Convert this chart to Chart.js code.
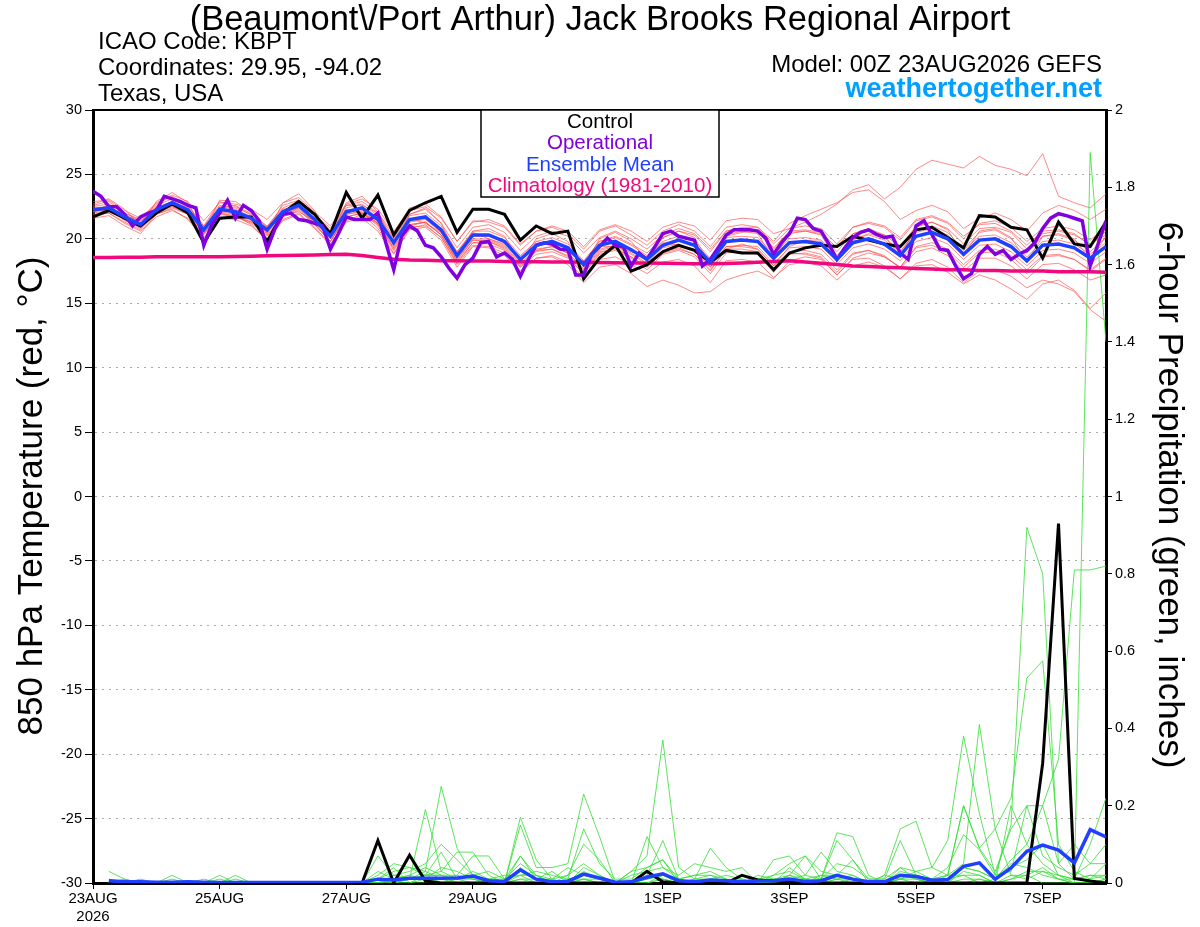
<!DOCTYPE html>
<html>
<head>
<meta charset="utf-8">
<script src="https://cdn.jsdelivr.net/npm/chart.js@4.4.1/dist/chart.umd.min.js"></script>
<style>
  html, body { margin: 0; padding: 0; background: #fff; }
  #wrap { width: 1200px; height: 927px; position: relative; }
</style>
</head>
<body>
<div id="wrap"><canvas id="meteograma"></canvas></div>
<script>
var FONTE = '"Liberation Sans", Arial, Helvetica, sans-serif';

// eixo x: horas desde 00Z 23AUG2026
var tickHoras = [0, 48, 96, 144, 216, 264, 312, 360];
var tickRotulos = ['23AUG', '25AUG', '27AUG', '29AUG', '1SEP', '3SEP', '5SEP', '7SEP'];

// temperatura 850 hPa, passo de 6 h (65 valores)
var controleTemp = [21.7, 22.2, 21.6, 21.0, 22.0, 22.7, 22.0, 19.7, 21.6, 21.7, 21.7, 19.8, 22.0, 22.9, 21.9, 20.4,
  23.6, 21.6, 23.4, 20.3, 22.2, 22.8, 23.3, 20.5, 22.3, 22.3, 21.9, 19.9, 21.0, 20.4, 20.6, 16.9,
  18.5, 19.5, 17.5, 18.0, 19.0, 19.5, 19.1, 18.2, 19.1, 18.9, 18.9, 17.6, 18.9, 19.3, 19.5, 19.4,
  20.2, 19.9, 19.6, 19.4, 20.7, 20.9, 20.1, 19.3, 21.8, 21.7, 20.9, 20.7, 18.5, 21.3, 19.6, 19.4, 21.3];

var mediaTemp = [22.25, 22.4, 21.7, 21.1, 22.25, 22.8, 22.25, 20.7, 22.3, 22.1, 21.6, 20.7, 22.1, 22.6, 21.5, 20.2,
  22.1, 22.4, 21.5, 19.7, 21.5, 21.7, 20.7, 18.7, 20.3, 20.3, 19.8, 18.4, 19.5, 19.8, 19.3, 18.0,
  19.5, 19.8, 19.15, 18.4, 19.5, 19.9, 19.5, 18.2, 19.8, 19.9, 19.8, 18.5, 19.7, 19.8, 19.6, 18.4,
  19.7, 20.0, 19.6, 18.7, 20.2, 20.5, 20.0, 18.8, 19.9, 20.0, 19.4, 18.3, 19.5, 19.6, 19.3, 18.5, 19.4];

var climaTemp = [18.55, 18.56, 18.57, 18.58, 18.6, 18.6, 18.6, 18.6, 18.6, 18.62, 18.65, 18.68, 18.7, 18.72, 18.75, 18.78,
  18.8, 18.7, 18.55, 18.42, 18.36, 18.33, 18.3, 18.3, 18.28, 18.27, 18.25, 18.23, 18.22, 18.2, 18.2, 18.18,
  18.17, 18.15, 18.13, 18.12, 18.1, 18.08, 18.06, 18.06, 18.08, 18.12, 18.18, 18.25, 18.3, 18.2, 18.1, 18.0,
  17.9, 17.85, 17.8, 17.75, 17.7, 17.65, 17.6, 17.6, 17.55, 17.55, 17.5, 17.5, 17.5, 17.45, 17.45, 17.45, 17.4];

// operacional, passo de 3 h (129 valores)
var operacionalTemp = [23.7, 23.3, 22.5, 22.5, 21.9, 21.0, 21.7, 22.0, 22.2, 23.3, 23.1, 22.9, 22.6, 22.4, 19.5, 21.1,
  22.0, 23.0, 21.6, 22.6, 22.2, 21.4, 19.2, 20.8, 21.9, 22.0, 21.5, 21.4, 21.2, 21.0, 19.2, 20.4,
  21.7, 21.5, 21.5, 21.5, 22.0, 19.7, 17.6, 20.2, 21.0, 20.6, 19.5, 19.3, 18.6, 17.7, 16.95, 18.0,
  18.5, 19.7, 19.8, 18.6, 18.9, 18.4, 17.1, 18.4, 19.5, 19.7, 19.6, 19.2, 19.15, 17.2, 17.2, 18.8,
  19.4, 20.05, 19.5, 19.4, 17.9, 18.9, 18.4, 19.4, 20.4, 20.6, 20.2, 20.05, 19.9, 17.9, 18.4, 19.3,
  20.3, 20.7, 20.7, 20.7, 20.6, 20.05, 18.8, 19.7, 20.4, 21.6, 21.5, 20.8, 20.6, 19.6, 18.4, 19.3,
  20.1, 20.5, 20.7, 20.35, 20.1, 20.2, 18.9, 18.4, 21.0, 21.4, 20.35, 19.2, 19.1, 17.9, 16.9, 17.3,
  18.8, 19.4, 18.8, 19.1, 18.4, 18.8, 19.1, 19.7, 20.8, 21.6, 21.95, 21.8, 21.6, 21.4, 17.9, 19.6, 21.4];

// membros do ensemble (temperatura, passo de 6 h)
var membrosTemp = [
  [22.9, 23.0, 22.2, 21.6, 22.8, 23.4, 22.9, 21.4, 22.8, 22.7, 22.3, 21.5, 22.8, 23.2, 22.1, 21.0,
   22.7, 23.1, 22.3, 20.6, 22.2, 22.5, 21.6, 19.8, 21.3, 21.5, 21.0, 19.6, 20.6, 21.0, 20.6, 19.4,
   20.7, 21.1, 20.6, 19.8, 20.9, 21.3, 21.0, 19.9, 21.4, 21.6, 21.5, 20.4, 20.8, 21.3, 21.9, 22.7,
   23.8, 24.2, 23.1, 24.0, 25.4, 26.1, 25.8, 25.5, 26.4, 25.7, 25.4, 24.9, 26.6, 23.3, 22.8, 22.4, 23.5],
  [22.6, 22.9, 22.0, 21.5, 22.7, 23.3, 22.6, 21.0, 22.9, 22.5, 22.0, 20.9, 22.6, 23.0, 22.0, 20.6,
   22.6, 22.9, 22.0, 20.1, 21.9, 22.4, 21.2, 19.3, 20.9, 21.1, 20.5, 19.1, 20.2, 20.6, 20.2, 18.9,
   20.1, 20.6, 20.0, 19.2, 20.3, 20.8, 20.4, 19.2, 20.6, 20.9, 20.9, 19.8, 21.2, 21.8, 22.3, 22.8,
   23.6, 23.8, 22.9, 21.5, 22.2, 22.6, 22.1, 20.8, 21.6, 22.0, 21.5, 20.6, 22.0, 22.6, 22.2, 21.5, 22.3],
  [21.8, 22.0, 21.2, 20.6, 21.7, 22.2, 21.6, 20.1, 21.6, 21.5, 21.0, 19.9, 21.4, 21.9, 20.8, 19.5,
   21.3, 21.6, 20.6, 18.8, 20.7, 20.9, 19.9, 17.8, 19.4, 19.3, 18.7, 17.4, 18.5, 18.7, 18.2, 17.0,
   18.4, 18.6, 18.0, 17.3, 18.2, 18.4, 17.9, 16.6, 18.3, 18.4, 18.2, 17.0, 18.0, 18.2, 17.9, 16.8,
   17.9, 18.2, 17.8, 16.9, 18.1, 18.4, 17.8, 16.6, 17.5, 17.6, 17.1, 16.2, 16.8, 16.5, 15.9, 14.5, 13.6],
  [22.1, 22.3, 21.5, 20.8, 22.0, 22.6, 22.0, 20.4, 22.0, 21.8, 21.3, 20.4, 21.8, 22.3, 21.1, 19.8,
   21.7, 22.0, 21.0, 19.1, 20.9, 21.0, 20.1, 18.0, 19.5, 19.4, 18.9, 17.5, 18.5, 18.6, 18.0, 16.6,
   17.8, 18.0, 17.3, 16.3, 16.8, 16.4, 15.8, 15.9, 16.8, 17.2, 17.5, 16.9, 18.3, 18.6, 18.4, 17.2,
   18.5, 18.9, 18.6, 17.8, 19.4, 19.7, 19.2, 18.0, 19.1, 19.2, 18.7, 17.6, 18.7, 18.8, 18.4, 17.6, 18.5],
  [22.4, 22.5, 21.9, 21.3, 22.4, 22.9, 22.4, 20.8, 22.2, 22.0, 21.5, 20.5, 22.0, 22.4, 21.3, 20.0,
   21.9, 22.1, 21.2, 19.4, 21.1, 21.3, 20.3, 18.4, 19.9, 19.8, 19.3, 17.9, 19.0, 19.2, 18.7, 17.5,
   19.0, 19.2, 18.6, 17.8, 18.9, 19.2, 18.8, 17.6, 19.2, 19.2, 19.0, 17.7, 18.9, 18.8, 18.5, 17.2,
   18.4, 18.5, 17.9, 16.9, 17.9, 18.0, 17.4, 16.5, 17.2, 16.8, 16.1, 15.3, 16.5, 16.8, 16.0, 14.6, 15.8],
  [22.5, 22.7, 22.0, 21.4, 22.6, 23.1, 22.5, 21.0, 22.6, 22.4, 21.9, 21.0, 22.4, 22.9, 21.8, 20.5,
   22.4, 22.7, 21.8, 20.0, 21.8, 22.0, 21.0, 19.0, 20.6, 20.6, 20.1, 18.7, 19.8, 20.1, 19.6, 18.3,
   19.8, 20.1, 19.5, 18.7, 19.8, 20.2, 19.8, 18.5, 20.1, 20.2, 20.1, 18.8, 20.0, 20.1, 19.9, 18.7,
   20.0, 20.3, 19.9, 19.0, 20.5, 20.8, 20.3, 19.1, 20.2, 20.3, 19.7, 18.6, 19.8, 19.9, 19.6, 18.8, 19.7],
  [21.9, 22.0, 21.3, 20.7, 21.9, 22.4, 21.9, 20.3, 21.9, 21.7, 21.2, 20.3, 21.7, 22.2, 21.1, 19.8,
   21.7, 22.0, 21.1, 19.3, 21.1, 21.3, 20.3, 18.3, 19.9, 19.9, 19.4, 18.0, 19.1, 19.4, 18.9, 17.6,
   19.1, 19.4, 18.8, 18.0, 19.1, 19.5, 19.1, 17.8, 19.4, 19.5, 19.4, 18.1, 19.3, 19.4, 19.2, 18.0,
   19.3, 19.6, 19.2, 18.3, 19.8, 20.1, 19.6, 18.4, 19.5, 19.6, 19.0, 17.9, 19.1, 19.2, 18.9, 18.1, 19.0],
  [22.2, 22.6, 21.6, 21.2, 22.5, 22.6, 22.0, 20.9, 22.4, 22.6, 21.8, 20.9, 22.3, 22.5, 21.9, 20.8,
   22.6, 22.6, 22.0, 20.4, 22.4, 22.7, 21.7, 19.8, 21.4, 21.3, 20.9, 19.5, 20.6, 20.9, 20.4, 19.2,
   20.6, 21.0, 20.3, 19.5, 20.6, 21.1, 20.6, 19.4, 20.9, 21.1, 20.9, 19.6, 20.8, 21.0, 20.8, 19.6,
   20.9, 21.2, 20.9, 19.9, 21.4, 21.7, 21.2, 20.0, 21.2, 21.4, 20.9, 19.8, 20.8, 21.0, 20.7, 19.9, 20.9],
  [21.6, 21.8, 21.0, 20.4, 21.9, 22.3, 21.5, 20.0, 21.5, 21.8, 21.1, 19.9, 21.5, 22.0, 20.9, 19.6,
   21.4, 21.9, 20.8, 18.9, 20.8, 21.1, 20.1, 18.1, 19.7, 19.8, 19.2, 17.8, 19.1, 19.2, 18.6, 17.3,
   18.9, 19.3, 18.6, 17.8, 19.0, 19.3, 18.8, 17.5, 19.2, 19.6, 19.2, 17.9, 19.4, 19.9, 19.8, 18.5,
   19.9, 20.4, 20.1, 19.0, 20.6, 21.0, 20.5, 19.2, 20.5, 20.7, 20.0, 18.9, 20.2, 20.3, 19.9, 19.0, 20.1],
  [22.3, 22.2, 21.5, 21.0, 22.1, 22.7, 22.2, 20.6, 22.5, 22.3, 21.7, 20.6, 22.2, 22.6, 21.6, 20.3,
   22.0, 22.4, 21.4, 19.6, 21.3, 21.5, 20.5, 18.5, 20.0, 20.0, 19.5, 18.1, 19.2, 19.4, 18.9, 17.7,
   19.2, 19.5, 18.9, 18.1, 19.3, 19.6, 19.1, 17.8, 19.4, 19.4, 19.2, 17.9, 19.0, 19.1, 18.8, 17.6,
   18.9, 19.1, 18.7, 17.7, 19.0, 19.3, 18.7, 17.5, 18.5, 18.5, 17.9, 16.9, 18.0, 18.1, 17.6, 16.8, 17.2],
  [22.7, 23.1, 22.3, 21.0, 22.9, 23.6, 22.8, 20.5, 23.0, 22.9, 22.1, 20.4, 22.8, 23.5, 22.2, 20.0,
   22.8, 23.3, 22.1, 19.5, 21.9, 22.3, 21.2, 18.6, 20.6, 20.8, 20.2, 18.2, 20.0, 20.4, 19.8, 17.8,
   20.0, 20.5, 19.8, 18.3, 20.1, 20.6, 20.1, 18.0, 20.3, 20.6, 20.4, 18.4, 20.4, 20.6, 20.3, 18.3,
   20.4, 20.8, 20.3, 18.6, 20.9, 21.3, 20.7, 18.7, 20.6, 20.8, 20.1, 18.2, 20.2, 20.4, 20.0, 18.4, 20.2],
  [22.0, 22.2, 21.8, 21.4, 22.3, 22.5, 21.9, 20.8, 22.0, 21.7, 21.3, 20.6, 21.9, 22.1, 21.4, 20.3,
   22.3, 22.0, 21.2, 19.9, 21.6, 21.2, 20.5, 19.0, 20.5, 20.0, 19.6, 18.6, 19.8, 19.5, 19.0, 18.2,
   19.4, 19.4, 19.0, 18.6, 19.7, 19.5, 19.2, 18.4, 20.2, 20.5, 20.6, 19.2, 20.5, 20.6, 20.4, 19.0,
   20.4, 20.6, 20.3, 19.4, 21.0, 21.3, 20.8, 19.6, 20.8, 20.9, 20.5, 19.2, 20.4, 20.6, 20.3, 19.6, 20.3],
  [22.1, 22.4, 21.4, 20.9, 22.0, 22.5, 22.1, 20.4, 22.1, 21.9, 21.4, 20.2, 21.8, 22.4, 21.2, 19.8,
   21.9, 22.2, 21.2, 19.2, 21.0, 21.3, 20.3, 18.2, 19.7, 19.6, 19.1, 17.8, 18.8, 19.0, 18.5, 17.3,
   18.8, 19.1, 18.5, 17.6, 18.8, 19.1, 18.6, 17.3, 18.9, 19.0, 18.8, 17.4, 18.8, 18.9, 18.6, 17.4,
   18.8, 19.1, 18.6, 17.8, 19.3, 19.5, 19.0, 17.8, 18.9, 19.0, 18.4, 17.3, 18.6, 18.7, 18.4, 17.5, 18.4],
  [22.4, 22.1, 21.6, 21.0, 22.4, 22.9, 22.1, 20.6, 22.3, 22.0, 21.5, 20.6, 22.0, 22.5, 21.4, 20.1,
   22.0, 22.3, 21.3, 19.6, 21.4, 21.6, 20.6, 18.6, 20.2, 20.2, 19.7, 18.4, 19.5, 19.8, 19.4, 18.2,
   19.8, 20.2, 19.6, 18.9, 20.1, 20.6, 20.3, 19.0, 20.6, 20.8, 20.6, 19.3, 20.6, 20.7, 20.5, 19.3,
   20.9, 21.3, 21.0, 20.1, 21.5, 21.8, 21.3, 20.2, 21.1, 21.2, 20.6, 19.5, 20.6, 20.7, 20.4, 19.5, 20.6]
];

// precipitação de 6 h (polegadas), de +6 h a +384 h (64 valores)
var controleChuva = [0, 0, 0, 0, 0, 0, 0, 0, 0, 0, 0, 0, 0, 0, 0, 0,
  0, 0.11, 0, 0.072, 0.005, 0, 0, 0, 0, 0, 0, 0, 0, 0, 0, 0,
  0, 0, 0.03, 0.003, 0, 0, 0, 0, 0.02, 0.008, 0.005, 0.003, 0, 0, 0, 0,
  0, 0, 0, 0, 0, 0, 0, 0, 0, 0, 0, 0.31, 0.93, 0.012, 0.005, 0];

var mediaChuva = [0.006, 0.003, 0.003, 0.002, 0.002, 0.003, 0.002, 0.001, 0.001, 0.001, 0.001, 0.001, 0.001, 0.001, 0.001, 0.001,
  0.002, 0.01, 0.008, 0.012, 0.012, 0.012, 0.013, 0.018, 0.006, 0.004, 0.034, 0.01, 0.003, 0.004, 0.023, 0.013,
  0.002, 0.003, 0.015, 0.024, 0.006, 0.003, 0.008, 0.006, 0.003, 0.005, 0.006, 0.01, 0.004, 0.006, 0.02, 0.01,
  0.003, 0.003, 0.02, 0.017, 0.007, 0.009, 0.043, 0.052, 0.01, 0.039, 0.082, 0.098, 0.085, 0.052, 0.138, 0.119];

var membrosChuva = [
  [0.03, 0.01, 0, 0, 0.02, 0, 0, 0.01, 0, 0, 0, 0, 0, 0, 0, 0,
   0, 0.07, 0.02, 0.01, 0.19, 0.03, 0.01, 0.02, 0, 0, 0.04, 0.01, 0, 0, 0.02, 0.01,
   0, 0, 0.02, 0.11, 0.01, 0, 0.01, 0, 0, 0.01, 0.02, 0.03, 0.01, 0, 0.02, 0.01,
   0, 0, 0.03, 0.02, 0.01, 0, 0.04, 0.03, 0.01, 0.06, 0.1, 0.05, 0.02, 0, 1.89, 1.40],
  [0, 0, 0.01, 0, 0, 0, 0, 0, 0, 0, 0, 0, 0, 0, 0, 0,
   0, 0.02, 0.05, 0.04, 0.03, 0.25, 0.09, 0.02, 0, 0, 0.17, 0.06, 0.01, 0, 0.03, 0.01,
   0, 0.03, 0.04, 0.06, 0, 0.01, 0.09, 0.04, 0.01, 0, 0.06, 0.07, 0.02, 0.01, 0.13, 0.12,
   0.02, 0, 0.01, 0.03, 0.04, 0.11, 0.38, 0.18, 0.02, 0.15, 0.92, 0.80, 0.05, 0.01, 0.02, 0.01],
  [0.01, 0, 0, 0, 0, 0, 0, 0, 0.02, 0, 0, 0, 0, 0, 0, 0,
   0, 0.01, 0.03, 0.04, 0.02, 0.03, 0.08, 0.08, 0.02, 0, 0.15, 0.04, 0.04, 0.05, 0.23, 0.12,
   0, 0, 0.12, 0.04, 0.02, 0.05, 0.04, 0.03, 0.04, 0, 0.02, 0.05, 0.07, 0.03, 0.02, 0.06,
   0, 0.02, 0.14, 0.16, 0.04, 0.02, 0.2, 0.09, 0.14, 0.22, 0.53, 0.575, 0.1, 0.03, 0.01, 0.05],
  [0, 0, 0, 0, 0, 0, 0.01, 0, 0, 0, 0, 0, 0, 0, 0, 0,
   0, 0, 0.01, 0.01, 0.02, 0.02, 0.02, 0.07, 0.07, 0.01, 0.07, 0.02, 0, 0.02, 0.1, 0.06,
   0, 0.03, 0.07, 0.37, 0.04, 0.01, 0.02, 0.01, 0, 0.02, 0.01, 0.01, 0.02, 0.08, 0.03, 0.02,
   0, 0.02, 0.01, 0.02, 0.01, 0.04, 0.125, 0.086, 0.02, 0.03, 0.2, 0.2, 0.32, 0.81, 0.81, 0.82],
  [0, 0.01, 0, 0, 0.01, 0, 0, 0, 0.01, 0, 0, 0, 0, 0, 0, 0,
   0, 0.03, 0.01, 0.02, 0.01, 0.04, 0.03, 0.01, 0.01, 0.02, 0.02, 0.03, 0.02, 0.01, 0.14, 0.05,
   0.01, 0.01, 0.04, 0.06, 0.01, 0, 0.01, 0.02, 0.01, 0, 0, 0.02, 0.07, 0.01, 0.11, 0.06,
   0.01, 0.01, 0.11, 0.02, 0.01, 0.02, 0.05, 0.41, 0.14, 0.02, 0.01, 0.03, 0.02, 0.01, 0.1, 0.22],
  [0, 0, 0, 0, 0, 0, 0, 0, 0, 0, 0, 0, 0, 0, 0, 0,
   0, 0.01, 0, 0.01, 0.02, 0.08, 0.01, 0, 0.01, 0, 0.01, 0.01, 0.03, 0, 0.04, 0.02,
   0, 0, 0.01, 0.02, 0.01, 0.02, 0.02, 0, 0.02, 0.01, 0, 0.04, 0.01, 0, 0.01, 0.01,
   0, 0, 0.04, 0.01, 0, 0.01, 0.02, 0.02, 0, 0.2, 0.1, 0.2, 0.05, 0.1, 0.05, 0.05],
  [0, 0, 0, 0, 0, 0, 0, 0, 0, 0, 0, 0, 0, 0, 0, 0,
   0, 0, 0.01, 0.02, 0.04, 0.02, 0, 0, 0, 0, 0.02, 0.02, 0, 0.01, 0.01, 0,
   0, 0, 0, 0.02, 0, 0, 0, 0, 0, 0, 0.01, 0, 0, 0, 0, 0,
   0, 0, 0.01, 0, 0, 0, 0.01, 0.01, 0, 0.01, 0.03, 0.03, 0.01, 0.01, 0.02, 0.02],
  [0, 0, 0, 0, 0, 0, 0, 0.02, 0, 0, 0, 0, 0, 0, 0, 0,
   0, 0, 0, 0, 0.01, 0, 0.01, 0.03, 0.01, 0.01, 0.02, 0, 0, 0, 0.01, 0,
   0, 0, 0, 0.01, 0, 0, 0, 0, 0, 0, 0, 0, 0, 0.02, 0.01, 0,
   0, 0, 0, 0, 0, 0.02, 0.02, 0, 0.01, 0.05, 0.04, 0.02, 0.01, 0, 0, 0],
  [0, 0, 0, 0, 0, 0, 0, 0, 0, 0, 0, 0, 0, 0, 0, 0,
   0, 0, 0.02, 0.03, 0.05, 0.1, 0.06, 0.02, 0.03, 0.01, 0.05, 0.02, 0.01, 0.02, 0.05, 0.02,
   0, 0.02, 0.03, 0.04, 0.01, 0.02, 0.03, 0.01, 0, 0.01, 0.01, 0.02, 0, 0.01, 0.05, 0.04,
   0.01, 0.01, 0.04, 0.03, 0.01, 0.02, 0.2, 0.09, 0.03, 0.14, 0.2, 0.07, 0.04, 0.02, 0.05, 0.1],
  [0, 0, 0, 0, 0, 0, 0, 0, 0, 0, 0, 0, 0, 0, 0, 0,
   0, 0.01, 0.04, 0, 0.02, 0.02, 0.01, 0.01, 0, 0, 0.07, 0.01, 0.01, 0.04, 0.02, 0.01,
   0, 0, 0.02, 0.01, 0, 0.01, 0.01, 0, 0.01, 0, 0, 0.01, 0.01, 0.02, 0.02, 0.01,
   0, 0, 0.02, 0.01, 0, 0.01, 0.04, 0.03, 0.01, 0.04, 0.06, 0.1, 0.02, 0.01, 0.01, 0.02],
  [0, 0, 0, 0, 0, 0, 0, 0, 0, 0, 0, 0, 0, 0, 0, 0,
   0, 0, 0, 0, 0, 0.01, 0.02, 0.01, 0, 0, 0.01, 0, 0, 0, 0.01, 0.01,
   0, 0, 0, 0.01, 0, 0, 0.01, 0, 0, 0, 0, 0.01, 0, 0, 0, 0.01,
   0, 0, 0, 0, 0, 0, 0, 0.01, 0, 0.01, 0.02, 0, 0, 0, 0, 0.01],
  [0, 0, 0, 0, 0, 0, 0, 0, 0, 0, 0, 0, 0, 0, 0, 0,
   0, 0, 0, 0.01, 0.03, 0.01, 0, 0, 0, 0, 0.03, 0.01, 0, 0.01, 0.02, 0.01,
   0, 0, 0.01, 0.02, 0.01, 0, 0, 0.01, 0, 0, 0, 0.02, 0.01, 0, 0.01, 0.02,
   0, 0, 0.01, 0.01, 0, 0, 0.03, 0.02, 0, 0.02, 0.02, 0.04, 0.01, 0, 0, 0.01]
];

// converte lista em pontos {x: hora, y: valor}
function serie(valores, passo, inicio) {
  return valores.map(function (v, k) { return { x: inicio + k * passo, y: v }; });
}

var datasets = [];
membrosTemp.forEach(function (m) {
  datasets.push({ data: serie(m, 6, 0), borderColor: 'rgba(255,70,70,0.8)', borderWidth: 0.8, yAxisID: 'y', order: 6 });
});
membrosChuva.forEach(function (m) {
  datasets.push({ data: serie(m, 6, 6), borderColor: '#33dd33', borderWidth: 0.8, yAxisID: 'y2', order: 5 });
});
datasets.push({ data: serie(climaTemp, 6, 0), borderColor: '#f0087f', borderWidth: 3.5, yAxisID: 'y', order: 4 });
datasets.push({ data: serie(controleTemp, 6, 0), borderColor: '#000000', borderWidth: 3, yAxisID: 'y', order: 3 });
datasets.push({ data: serie(controleChuva, 6, 6), borderColor: '#000000', borderWidth: 3, yAxisID: 'y2', order: 3 });
datasets.push({ data: serie(operacionalTemp, 3, 0), borderColor: '#8000e0', borderWidth: 3.5, yAxisID: 'y', order: 2 });
datasets.push({ data: serie(mediaTemp, 6, 0), borderColor: '#2040ff', borderWidth: 3.5, yAxisID: 'y', order: 1 });
datasets.push({ data: serie(mediaChuva, 6, 6), borderColor: '#2040ff', borderWidth: 3.5, yAxisID: 'y2', order: 1 });

// textos, legenda e moldura
var textos = {
  id: 'textos',
  afterDraw: function (chart) {
    var c = chart.ctx, a = chart.chartArea;
    c.save();
    c.strokeStyle = '#000';
    c.lineWidth = 2;
    c.beginPath(); c.moveTo(a.left, a.top); c.lineTo(a.right, a.top); c.stroke();

    c.fillStyle = '#000';
    c.textAlign = 'center';
    c.textBaseline = 'alphabetic';
    c.font = '34.5px ' + FONTE;
    c.fillText('(Beaumont\\/Port Arthur) Jack Brooks Regional Airport', 600, 30);

    c.textAlign = 'left';
    c.font = '24px ' + FONTE;
    c.fillText('ICAO Code: KBPT', 98, 49);
    c.fillText('Coordinates: 29.95, -94.02', 98, 75);
    c.fillText('Texas, USA', 98, 101);

    c.textAlign = 'right';
    c.fillText('Model: 00Z 23AUG2026 GEFS', 1102, 72);
    c.fillStyle = '#00a0ff';
    c.font = 'bold 27px ' + FONTE;
    c.fillText('weathertogether.net', 1102, 97);

    // caixa de legenda
    c.fillStyle = '#fff';
    c.fillRect(481, a.top, 238, 87);
    c.lineWidth = 1.5;
    c.strokeRect(481, a.top, 238, 87);
    c.textAlign = 'center';
    c.font = '20.5px ' + FONTE;
    var itens = [['Control', '#000000'], ['Operational', '#8000e0'], ['Ensemble Mean', '#2040ff'], ['Climatology (1981-2010)', '#f0087f']];
    itens.forEach(function (it, k) {
      c.fillStyle = it[1];
      c.fillText(it[0], 600, a.top + 18 + k * 21.3);
    });

    // títulos dos eixos
    c.fillStyle = '#000';
    c.font = '35px ' + FONTE;
    c.textBaseline = 'middle';
    c.save();
    c.translate(32, 496);
    c.rotate(-Math.PI / 2);
    c.fillText('850 hPa Temperature (red, \u00b0C)', 0, 0);
    c.restore();
    c.save();
    c.translate(1169, 495);
    c.rotate(Math.PI / 2);
    c.fillText('6-hour Precipitation (green, inches)', 0, 0);
    c.restore();
    c.restore();
  }
};

var ctx = document.getElementById('meteograma').getContext('2d');
var meteograma = new Chart(ctx, {
  type: 'line',
  data: { datasets: datasets },
  options: {
    responsive: true,
    maintainAspectRatio: false,
    animation: false,
    parsing: false,
    normalized: true,
    layout: { padding: { top: 110, left: 0, right: 0, bottom: 0 } },
    elements: {
      point: { radius: 0 },
      line: { tension: 0, fill: false }
    },
    plugins: { legend: { display: false }, tooltip: { enabled: false }, title: { display: false } },
    scales: {
      x: {
        type: 'linear', min: 0, max: 384,
        afterBuildTicks: function (s) { s.ticks = tickHoras.map(function (h) { return { value: h }; }); },
        afterFit: function (s) { s.height = 44; },
        ticks: {
          autoSkip: false, maxRotation: 0, color: '#000', padding: 1,
          font: { family: FONTE, size: 15 },
          callback: function (v) {
            var k = tickHoras.indexOf(v);
            if (k === 0) return [tickRotulos[0], '2026'];
            return k >= 0 ? tickRotulos[k] : '';
          }
        },
        grid: { drawOnChartArea: false, tickLength: 6, tickColor: '#000', tickWidth: 1 },
        border: { color: '#000', width: 3 }
      },
      y: {
        position: 'left', min: -30, max: 30,
        afterFit: function (s) { s.width = 93; },
        ticks: { stepSize: 5, color: '#000', padding: 3, font: { family: FONTE, size: 14.5 } },
        grid: { color: '#aaaaaa', lineWidth: 1, tickLength: 8, tickColor: '#000', tickWidth: 1, tickBorderDash: [] },
        border: { color: '#000', width: 3, dash: [2, 5] }
      },
      y2: {
        position: 'right', min: 0, max: 2,
        afterFit: function (s) { s.width = 94; },
        ticks: {
          stepSize: 0.2, color: '#000', padding: 3, font: { family: FONTE, size: 14.5 },
          callback: function (v) { return String(+v.toFixed(1)); }
        },
        grid: { drawOnChartArea: false, tickLength: 6, tickColor: '#000', tickWidth: 1 },
        border: { color: '#000', width: 3 }
      }
    }
  },
  plugins: [textos]
});
</script>
</body>
</html>
